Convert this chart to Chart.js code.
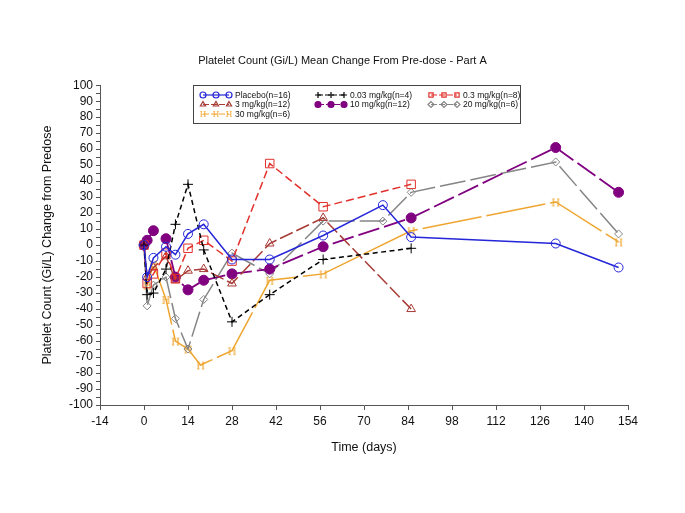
<!DOCTYPE html>
<html lang="en">
<head>
<meta charset="UTF-8">
<title>Platelet Count Mean Change From Pre-dose - Part A</title>
<script src="https://cdn.jsdelivr.net/npm/chart.js"></script>
<style>
    html, body { margin: 0; padding: 0; background: #fff; }
    #wrap { width: 685px; height: 513px; }
</style>
</head>
<body>
<div id="wrap"><canvas id="chart" width="685" height="513"></canvas></div>
<script>
// values (day, change from predose)
const placeboDays = [0, 1, 3, 7, 10, 14, 19, 28, 40, 57, 76, 85, 131, 151];
const placeboVals = [0, -20, -8, -1, -6, 7, 13, -9, -9, 6, 25, 5, 1, -14];

const dose003Days = [0, 1, 3, 7, 10, 14, 19, 28, 40, 57, 85];
const dose003Vals = [0, -31, -30, -15, 13, 38, -3, -48, -31, -9, -2];

const dose03Days = [0, 1, 3, 7, 10, 14, 19, 28, 40, 57, 85];
const dose03Vals = [0, -24, -18, -5, -21, -2, 3, -10, 51, 24, 38];

const dose3Days = [0, 1, 3, 7, 10, 14, 19, 28, 40, 57, 85];
const dose3Vals = [0, -20, -14, -7, -22, -16, -15, -24, 1, 17, -40];

const dose10Days = [0, 1, 3, 7, 10, 14, 19, 28, 40, 57, 85, 131, 151];
const dose10Vals = [0, 3, 9, 4, -20, -28, -22, -18, -15, -1, 17, 61, 33];

const dose20Days = [0, 1, 3, 7, 10, 14, 19, 28, 40, 57, 76, 85, 131, 151];
const dose20Vals = [0, -38, -25, -20, -46, -65, -34, -5, -18, 15, 15, 33, 52, 7];

const dose30Days = [0, 1, 3, 7, 10, 14, 18, 28, 40, 57, 85, 131, 151];
const dose30Vals = [0, -25, -12, -34, -60, -65, -75, -66, -22, -18, 9, 27, 2];

const xTicks = [-14, 0, 14, 28, 42, 56, 70, 84, 98, 112, 126, 140, 154];

function toXY(days, vals) {
    return days.map((d, i) => ({ x: d, y: vals[i] }));
}

// "H" shaped marker used for the 30 mg/kg group
function makeHMarker(color, size) {
    const c = document.createElement('canvas');
    c.width = size; c.height = size;
    const g = c.getContext('2d');
    g.fillStyle = color;
    g.font = (size - 1) + 'px "Liberation Serif", serif';
    g.textAlign = 'center';
    g.textBaseline = 'middle';
    g.fillText('H', size / 2, size / 2 + 1);
    return c;
}

const orange = '#EFA630';
const hMarker = makeHMarker(orange, 13);
const hMarkerSmall = makeHMarker(orange, 10);

const datasets = [
    { label: 'Placebo(n=16)', data: toXY(placeboDays, placeboVals), borderColor: '#2626D9',
      pointStyle: 'circle', pointRadius: 4.5, borderWidth: 1.5, borderDash: [] },
    { label: '0.03 mg/kg(n=4)', data: toXY(dose003Days, dose003Vals), borderColor: '#000000',
      pointStyle: 'cross', pointRadius: 5, borderWidth: 1.5, borderDash: [5, 3.5] },
    { label: '0.3 mg/kg(n=8)', data: toXY(dose03Days, dose03Vals), borderColor: '#E2302C',
      pointStyle: 'rect', pointRadius: 6, borderWidth: 1.5, borderDash: [8, 4] },
    { label: '3 mg/kg(n=12)', data: toXY(dose3Days, dose3Vals), borderColor: '#A83B36',
      pointStyle: 'triangle', pointRadius: 5, borderWidth: 1.5, borderDash: [14, 4] },
    { label: '10 mg/kg(n=12)', data: toXY(dose10Days, dose10Vals), borderColor: '#800080',
      pointStyle: 'circle', pointRadius: 5, borderWidth: 1.8, borderDash: [22, 5], filled: true },
    { label: '20 mg/kg(n=6)', data: toXY(dose20Days, dose20Vals), borderColor: '#858585',
      pointStyle: 'rectRot', pointRadius: 4, borderWidth: 1.5, borderDash: [26, 5] },
    { label: '30 mg/kg(n=6)', data: toXY(dose30Days, dose30Vals), borderColor: orange,
      pointStyle: hMarker, legendStyle: hMarkerSmall, pointRadius: 5, borderWidth: 1.5, borderDash: [60, 5] }
];

datasets.forEach(ds => {
    ds.backgroundColor = ds.filled ? ds.borderColor : 'rgba(0,0,0,0)';
    ds.pointBorderWidth = 1;
    ds.fill = false;
    ds.tension = 0;
});

// legend in a box, three columns like the original
const gridLegend = {
    id: 'gridLegend',
    afterDraw(chart) {
        const ctx = chart.ctx;
        const box = { x: 193.5, y: 85.5, w: 327, h: 38 };
        const cols = [203, 318, 431];
        const rows = [95, 104.5, 114];
        ctx.save();
        ctx.strokeStyle = '#444';
        ctx.lineWidth = 1;
        ctx.strokeRect(box.x, box.y, box.w, box.h);
        ctx.font = '8.5px "Liberation Sans", Arial, sans-serif';
        ctx.textBaseline = 'middle';
        chart.data.datasets.forEach((ds, i) => {
            const x = cols[i % 3];
            const y = rows[Math.floor(i / 3)];
            const w = 26;
            ctx.strokeStyle = ds.borderColor;
            ctx.fillStyle = ds.backgroundColor;
            ctx.lineWidth = 1.2;
            ctx.setLineDash(ds.borderDash.length ? [Math.min(ds.borderDash[0], 6), 2] : []);
            ctx.beginPath();
            ctx.moveTo(x, y);
            ctx.lineTo(x + w, y);
            ctx.stroke();
            ctx.setLineDash([]);
            [x, x + w / 2, x + w].forEach(px => {
                ctx.strokeStyle = ds.borderColor;
                ctx.fillStyle = ds.backgroundColor;
                Chart.helpers.drawPoint(ctx, {
                    pointStyle: ds.legendStyle || ds.pointStyle,
                    radius: ds.legendStyle ? 4 : 3,
                    rotation: 0,
                    borderWidth: 1
                }, px, y);
            });
            ctx.fillStyle = '#111';
            ctx.fillText(ds.label, x + w + 6, y + 0.5);
        });
        ctx.restore();
    }
};

const tickFont = { family: '"Liberation Sans", Arial, sans-serif', size: 12 };
const axisColor = '#555';

new Chart(document.getElementById('chart'), {
    type: 'line',
    data: { datasets },
    plugins: [gridLegend],
    options: {
        responsive: false,
        animation: false,
        layout: { padding: { top: 0, left: 0, right: 0, bottom: 58 } },
        plugins: {
            legend: { display: false },
            tooltip: { enabled: false },
            title: {
                display: true,
                text: 'Platelet Count (Gi/L) Mean Change From Pre-dose - Part A',
                color: '#111',
                font: { family: '"Liberation Sans", Arial, sans-serif', size: 11, weight: 'normal' },
                padding: { top: 54, bottom: 18 }
            }
        },
        scales: {
            x: {
                type: 'linear',
                min: -14,
                max: 154,
                afterFit(scale) { scale.height = 50; },
                afterBuildTicks(scale) { scale.ticks = xTicks.map(v => ({ value: v })); },
                ticks: { color: '#111', font: tickFont, padding: 4, maxRotation: 0, autoSkip: false },
                grid: { drawOnChartArea: false, drawTicks: true, tickLength: 5, color: axisColor },
                border: { color: axisColor, width: 1 },
                title: {
                    display: true,
                    text: 'Time (days)',
                    color: '#111',
                    font: { family: '"Liberation Sans", Arial, sans-serif', size: 12.5 },
                    padding: { top: 6, bottom: 0 }
                }
            },
            y: {
                min: -100,
                max: 100,
                afterFit(scale) { scale.width = 100; },
                ticks: {
                    stepSize: 5,
                    autoSkip: false,
                    color: '#111',
                    font: tickFont,
                    padding: 3,
                    callback: v => (v % 10 === 0 ? v : '')
                },
                grid: { drawOnChartArea: false, drawTicks: true, tickLength: 4, color: axisColor },
                border: { color: axisColor, width: 1 },
                title: {
                    display: true,
                    text: 'Platelet Count (Gi/L) Change from Predose',
                    color: '#111',
                    font: { family: '"Liberation Sans", Arial, sans-serif', size: 12.5 },
                    padding: { top: 40, bottom: 0 }
                }
            },
            // empty right-hand axis, only keeps the white margin on the right
            spacer: {
                position: 'right',
                min: 0,
                max: 1,
                afterFit(scale) { scale.width = 57; },
                ticks: { display: false },
                grid: { display: false },
                border: { display: false }
            }
        }
    }
});
</script>
</body>
</html>
